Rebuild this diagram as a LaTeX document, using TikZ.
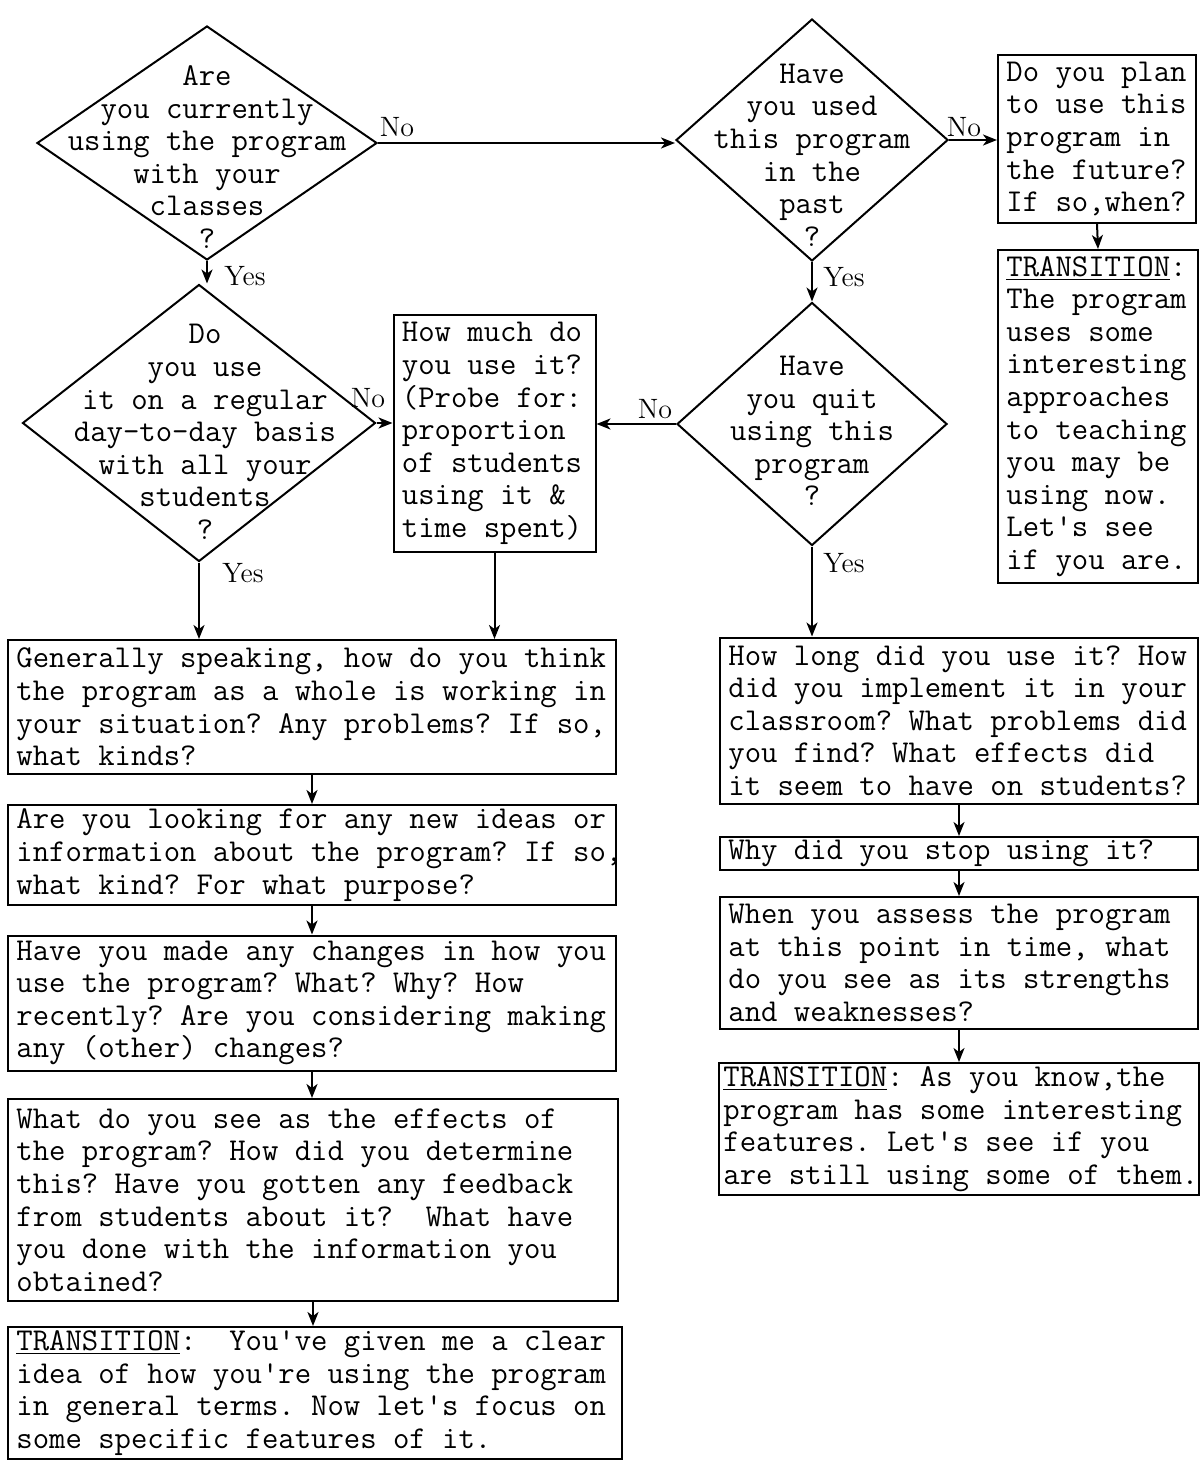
\documentclass[tikz,border=0pt]{standalone}
\usetikzlibrary{shapes.geometric,arrows.meta}
\newcommand\bxfont{\fontsize{15.9}{16.3}\selectfont\ttfamily\frenchspacing}
\newcommand\lbfont{\fontsize{14}{15}\selectfont\rmfamily}
\newcommand\ap{\textquotesingle}
\tikzset{
  box/.style={draw, line width=1pt, rectangle, inner sep=0pt, anchor=center},
  btext/.style={align=left, font=\bxfont, inner sep=0pt, anchor=west},
  dia/.style={draw, line width=1pt, diamond, inner sep=0pt},
  dtext/.style={align=center, font=\bxfont, inner sep=0pt},
  lab/.style={font=\lbfont, inner sep=0pt},
  arr/.style={-{Stealth[length=7pt,width=5.5pt,inset=2pt]}, line width=1pt},
}
% \bx{name}{x}{y}{width}{height}{text}
\newcommand\bx[6]{%
  \node[box, minimum width=#4, minimum height=#5] (#1) at (#2,#3) {};
  \node[btext] (#1t) at ([xshift=4.5pt]#1.west) {#6};}
\begin{document}
\begin{tikzpicture}[x=0.5pt,y=-0.5pt]
\useasboundingbox (0,0) rectangle (1201,1460);

% diamonds
\node[dia, minimum width=170pt, minimum height=117pt] (d1) at (207,143) {};
\node[dtext] (d1t) at (207,157) {Are\\you currently\\using the program\\with your\\classes\\?};
\node[dia, minimum width=136pt, minimum height=121pt] (d2) at (812,140) {};
\node[dtext] (d2t) at (812,155) {Have\\you used\\this program\\in the\\past\\?};
\node[dia, minimum width=135pt, minimum height=121.5pt] (d3) at (812,424) {};
\node[dtext] (d3t) at (812,431) {Have\\you quit\\using this\\program\\?};
\node[dia, minimum width=176.5pt, minimum height=138.5pt] (d4) at (199,423) {};
\node[dtext] (d4t) at (205,432) {Do\\you use\\it on a regular\\day-to-day basis\\with all your\\students\\?};

% boxes, right column top
\bx{b1}{1097}{139}{99pt}{84pt}
  {Do you plan\\to use this\\program in\\the future?\\If so,when?}
\bx{b2}{1098}{416.5}{100pt}{166.5pt}
  {\underline{TRANSITION}:\\The program\\uses some\\interesting\\approaches\\to teaching\\you may be\\using now.\\Let\ap s see\\if you are.}
\bx{hm}{494.5}{433.5}{101pt}{118.5pt}
  {How much do\\you use it?\\(Probe for:\\proportion\\of students\\using it \&\\time spent)}

% left column
\bx{g}{312}{707}{304pt}{67pt}
  {Generally speaking, how do you think\\the program as a whole is working in\\your situation? Any problems? If so,\\what kinds?}
\bx{l}{312}{855}{304pt}{50pt}
  {Are you looking for any new ideas or\\information about the program? If so,\\what kind? For what purpose?}
\bx{h}{312}{1003}{304pt}{67.5pt}
  {Have you made any changes in how you\\use the program? What? Why? How\\recently? Are you considering making\\any (other) changes?}
\bx{w}{313}{1200}{305pt}{101pt}
  {What do you see as the effects of\\the program? How did you determine\\this? Have you gotten any feedback\\from students about it?~ What have\\you done with the information you\\obtained?}
\bx{t}{315}{1393}{307pt}{66pt}
  {\underline{TRANSITION}:~ You\ap ve given me a clear\\idea of how you\ap re using the program\\in general terms. Now let\ap s focus on\\some specific features of it.}

% right column lower
\bx{hl}{959}{720.5}{239pt}{83pt}
  {How long did you use it? How\\did you implement it in your\\classroom? What problems did\\you find? What effects did\\it seem to have on students?}
\bx{why}{959}{853.5}{239pt}{16.5pt}
  {Why did you stop using it?}
\bx{when}{959}{963}{239pt}{66pt}
  {When you assess the program\\at this point in time, what\\do you see as its strengths\\and weaknesses?}
\node[box, minimum width=240pt, minimum height=66pt] (tr2) at (959,1129) {};
\node[btext] (tr2t) at ([xshift=2.5pt]tr2.west)
  {\underline{TRANSITION}: As you know,the\\program has some interesting\\features. Let\ap s see if you\\are still using some of them.};

% connectors
\draw[arr] (d1.east) -- (d1.east -| d2.west);
\draw[arr] (d2.east) -- (d2.east -| b1.west);
\draw[arr] (b1.south) -- (b2.north);
\draw[arr] (d2.south) -- (d2.south |- d3.north);
\draw[arr] (d3.west) -- (d3.west -| hm.east);
\draw[arr] (d1.south) -- (d1.south |- d4.north);
\draw[arr] (d4.east) -- (d4.east -| hm.west);
\draw[arr] (d4.south) -- (d4.south |- g.north);
\draw[arr] (hm.south) -- (hm.south |- g.north);
\draw[arr] (g.south) -- (l.north);
\draw[arr] (l.south) -- (h.north);
\draw[arr] (h.south) -- (h.south |- w.north);
\draw[arr] (w.south) -- (w.south |- t.north);
\draw[arr] (d3.south) -- (d3.south |- hl.north);
\draw[arr] (hl.south) -- (why.north);
\draw[arr] (why.south) -- (when.north);
\draw[arr] (when.south) -- (when.south |- tr2.north);

% labels
\node[lab] (n1) at (397,127) {No};
\node[lab] (n2) at (964,127) {No};
\node[lab] (y1) at (245,276) {Yes};
\node[lab] (y2) at (844,277) {Yes};
\node[lab] (n3) at (368,398) {No};
\node[lab] (n4) at (655,409) {No};
\node[lab] (y3) at (243,573) {Yes};
\node[lab] (y4) at (844,563) {Yes};
\end{tikzpicture}
\end{document}
